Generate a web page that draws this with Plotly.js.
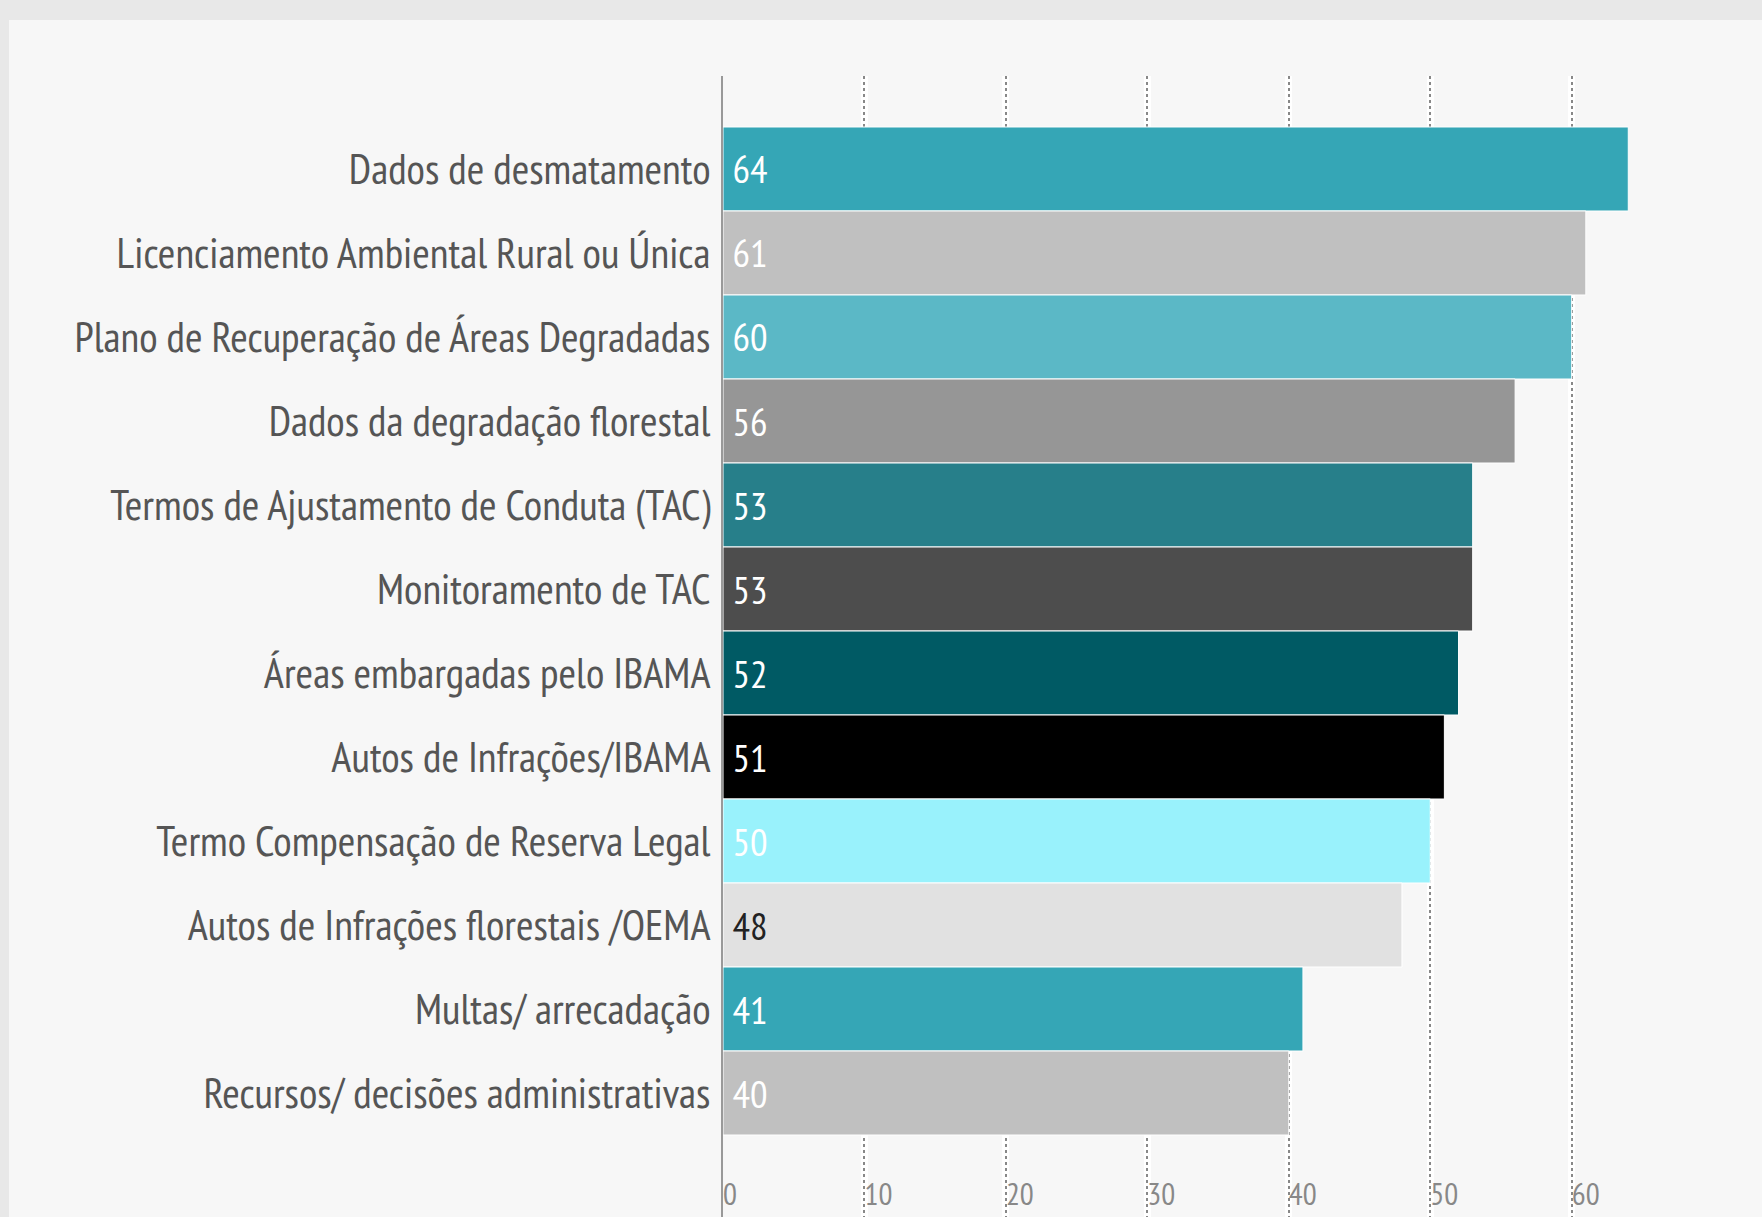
<!DOCTYPE html>
<html>
<head>
<meta charset="utf-8">
<script src="https://cdn.plot.ly/plotly-3.0.1.min.js"></script>
<style>
  html, body { margin: 0; padding: 0; background: #e8e8e8; width: 1762px; height: 1217px; overflow: hidden; }
  #chart { position: absolute; left: 9px; top: 20px; width: 1753px; height: 1197px; }
</style>
</head>
<body>
<div id="chart"></div>
<script>
const categories = [
  "Dados de desmatamento",
  "Licenciamento Ambiental Rural ou Única",
  "Plano de Recuperação de Áreas Degradadas",
  "Dados da degradação florestal",
  "Termos de Ajustamento de Conduta (TAC)",
  "Monitoramento de TAC",
  "Áreas embargadas pelo IBAMA",
  "Autos de Infrações/IBAMA",
  "Termo Compensação de Reserva Legal",
  "Autos de Infrações florestais /OEMA",
  "Multas/ arrecadação",
  "Recursos/ decisões administrativas"
];
const values = [64, 61, 60, 56, 53, 53, 52, 51, 50, 48, 41, 40];
const barColors = ["#35a6b6", "#c0c0c0", "#5bb8c6", "#969696", "#277f8a", "#4d4d4d",
                   "#005a64", "#000000", "#99f2fc", "#e1e1e1", "#35a6b6", "#c0c0c0"];
const textColors = ["#ffffff", "#ffffff", "#ffffff", "#ffffff", "#ffffff", "#ffffff",
                    "#ffffff", "#ffffff", "#ffffff", "#222222", "#ffffff", "#ffffff"];
const tickValues = [0, 10, 20, 30, 40, 50, 60];

const FONT = "'PT Sans Narrow', 'Liberation Sans Narrow', 'DejaVu Sans Condensed', 'Roboto Condensed', sans-serif";

const traces = [
  {
    type: "bar",
    orientation: "h",
    x: values,
    y: categories,
    xaxis: "x",
    yaxis: "y",
    marker: { color: barColors, line: { color: "#ffffff", width: 1 } },
    text: values.map(v => "\u2006" + v),
    textposition: "inside",
    insidetextanchor: "start",
    textfont: { family: FONT, size: 39, color: textColors },
    constraintext: "none",
    hoverinfo: "x+y",
    showlegend: false
  },
  {
    type: "scatter",
    mode: "markers",
    x: [],
    y: [],
    xaxis: "x2",
    yaxis: "y",
    showlegend: false,
    hoverinfo: "skip"
  }
];

const layout = {
  width: 1753,
  height: 1197,
  margin: { l: 714, r: 63, t: 56, b: 0 },
  paper_bgcolor: "#f7f7f7",
  plot_bgcolor: "#f7f7f7",
  bargap: 0,
  font: { family: FONT, color: "#555555" },
  xaxis: {
    range: [0, 69],
    tickvals: tickValues,
    showgrid: true,
    gridcolor: "#ffffff",
    gridwidth: 7,
    zeroline: false,
    showline: false,
    ticks: "",
    showticklabels: false,
    fixedrange: true
  },
  xaxis2: {
    overlaying: "x",
    anchor: "y",
    side: "bottom",
    range: [0, 69],
    tickvals: tickValues,
    showgrid: true,
    gridcolor: "#888888",
    griddash: "dot",
    gridwidth: 2,
    zeroline: false,
    showline: false,
    ticks: "",
    ticklabelposition: "inside right",
    ticklabelstandoff: 0,
    tickfont: { family: FONT, size: 31, color: "#888888" },
    fixedrange: true
  },
  yaxis: {
    type: "category",
    categoryarray: categories,
    range: [12.476, -1.107],
    showgrid: false,
    zeroline: false,
    showline: true,
    linecolor: "#999999",
    linewidth: 2,
    ticks: "",
    ticklabelstandoff: 2,
    tickfont: { family: FONT, size: 42.5, color: "#555555" },
    automargin: false,
    fixedrange: true
  }
};

Plotly.newPlot("chart", traces, layout, { displayModeBar: false, staticPlot: true });
</script>
</body>
</html>
